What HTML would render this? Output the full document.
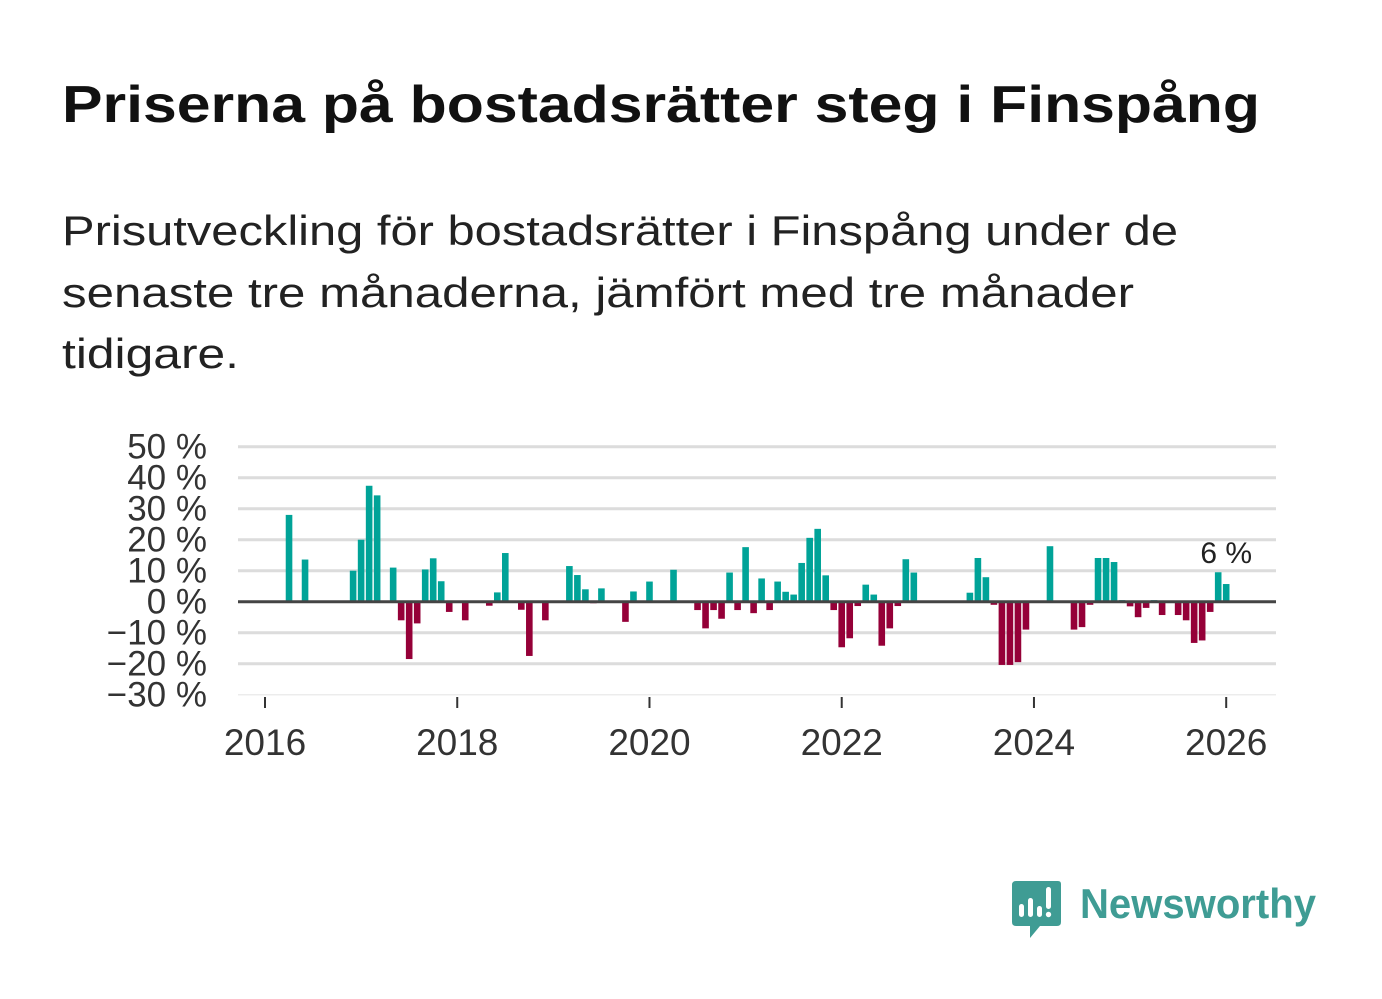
<!DOCTYPE html>
<html><head><meta charset="utf-8"><style>
html,body{margin:0;padding:0;background:#fff;}
svg{display:block;font-family:"Liberation Sans",sans-serif;}
</style></head><body>
<svg id="chart" width="1382" height="999" viewBox="0 0 1382 999">
<text x="62" y="122" font-size="52" font-weight="bold" fill="#111" textLength="1198" lengthAdjust="spacingAndGlyphs">Priserna på bostadsrätter steg i Finspång</text>
<g font-size="42" fill="#222">
<text x="62" y="245" textLength="1116" lengthAdjust="spacingAndGlyphs">Prisutveckling för bostadsrätter i Finspång under de</text>
<text x="62" y="307" textLength="1072" lengthAdjust="spacingAndGlyphs">senaste tre månaderna, jämfört med tre månader</text>
<text x="62" y="368" textLength="177" lengthAdjust="spacingAndGlyphs">tidigare.</text>
</g>
<g id="grid"></g>
<g id="ylabels"></g>
<g id="bars"></g>
<g id="xaxis"></g>
<g>
<path d="M1016 881 H1058 Q1061 881 1061 884 V922 Q1061 926 1057 926 H1040 L1030 938 V926 H1016 Q1012 926 1012 922 V885 Q1012 881 1016 881 Z" fill="#3f9c94"/>
<rect x="1019" y="904" width="5" height="13" rx="2.5" fill="#fff"/>
<rect x="1028" y="898" width="5" height="19" rx="2.5" fill="#fff"/>
<rect x="1037" y="906" width="5" height="11" rx="2.5" fill="#fff"/>
<rect x="1046" y="887" width="5" height="22" rx="2.5" fill="#fff"/>
<circle cx="1048.5" cy="914.5" r="2.7" fill="#fff"/>
<text x="1080" y="918" font-size="42" font-weight="bold" fill="#3f9c94" textLength="236" lengthAdjust="spacingAndGlyphs">Newsworthy</text>
</g>
</svg>
<script>
// monthly change (%), index 0 = Jan 2016
const monthIndex = [3,5,11,12,13,14,16,17,18,19,20,21,22,23,25,28,29,30,32,33,35,38,39,40,41,42,45,46,48,51,54,55,56,57,58,59,60,61,62,63,64,65,66,67,68,69,70,71,72,73,74,75,76,77,78,79,80,81,88,89,90,91,92,93,94,95,98,101,102,103,104,105,106,107,108,109,110,111,112,114,115,116,117,118,119,120];
const values = [28,13.6,10,20,37.4,34.3,11,-6,-18.5,-7,10.4,14,6.6,-3.3,-6,-1.3,3,15.7,-2.6,-17.5,-6,11.5,8.6,4,-0.5,4.3,-6.5,3.3,6.5,10.3,-2.7,-8.6,-2.7,-5.5,9.4,-2.7,17.6,-3.7,7.5,-2.7,6.5,3.2,2.3,12.5,20.6,23.5,8.5,-2.7,-14.7,-11.8,-1.4,5.5,2.3,-14.2,-8.6,-1.4,13.7,9.4,2.9,14.1,7.9,-1,-20.4,-20.4,-19.5,-9,17.9,-9,-8.2,-1,14.1,14.1,12.8,0.5,-1.5,-5,-2,0.5,-4.3,-4.3,-6,-13.3,-12.5,-3.3,9.5,5.7];
const yTicks = [50,40,30,20,10,0,-10,-20,-30];
const yTickLabels = ["50 %","40 %","30 %","20 %","10 %","0 %","\u221210 %","\u221220 %","\u221230 %"];
const xTickYears = [2016,2018,2020,2022,2024,2026];
const lastLabel = "6 %";

const NS = "http://www.w3.org/2000/svg";
const y = v => 601.7 - v * 3.1;
const x = m => 265 + m * 8.01;
function mk(tag, attrs, parent){const e=document.createElementNS(NS,tag);for(const k in attrs)e.setAttribute(k,attrs[k]);parent.appendChild(e);return e;}
const grid=document.getElementById('grid'), yl=document.getElementById('ylabels'), bars=document.getElementById('bars'), xa=document.getElementById('xaxis');
yTicks.forEach((t,i)=>{
  if(t!==0){const l=mk('line',{x1:238,x2:1276,y1:y(t),y2:y(t),stroke:t===-30?'#ececec':'#dcdcdc','stroke-width':t===-30?1.5:3},grid);
  
  }
  const tx=mk('text',{x:207,y:y(t)+12,'text-anchor':'end','font-size':35,fill:'#333'},yl);
  tx.textContent=yTickLabels[i];
  
  
});
monthIndex.forEach((m,i)=>{
  const v=values[i];
  const r=mk('rect',{x:x(m)-3.3,width:6.6,y:v>=0?y(v):y(0),height:Math.abs(y(v)-y(0)),fill:v>=0?'#00a398':'#950038'},bars);
  
  
});
const zl=mk('line',{x1:238,x2:1276,y1:y(0),y2:y(0),stroke:'#444','stroke-width':3},bars);


const lm=monthIndex[monthIndex.length-1];
const lbl=mk('text',{x:x(lm),y:563,'text-anchor':'middle','font-size':30,fill:'#222'},bars);
lbl.textContent=lastLabel;


xTickYears.forEach(yr=>{
  const xx=x((yr-2016)*12);
  const tk=mk('line',{x1:xx,x2:xx,y1:697,y2:708,stroke:'#333','stroke-width':2},xa);
  
  
  const t=mk('text',{x:xx,y:755,'text-anchor':'middle','font-size':37,fill:'#333'},xa);
  t.textContent=yr;
  
  
});
</script>
</body></html>
